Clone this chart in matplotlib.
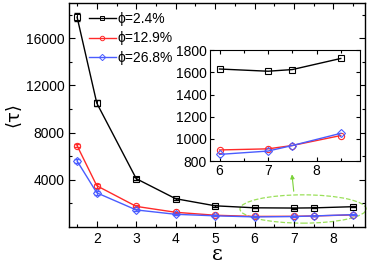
import matplotlib.pyplot as plt
from matplotlib.patches import Ellipse

plt.rcParams['font.family'] = ['Liberation Sans', 'DejaVu Sans']

eps = [1.5, 2, 3, 4, 5, 6, 7, 7.5, 8.5]
tau_24 = [17800, 10500, 4100, 2400, 1800, 1630, 1610, 1625, 1725]
tau_129 = [6900, 3500, 1750, 1250, 1000, 900, 910, 940, 1030]
tau_268 = [5600, 2900, 1450, 1080, 950, 860, 890, 940, 1050]
err_24 = [350, 250, 120, 80, 60, 40, 40, 40, 40]
err_129 = [150, 150, 80, 60, 50, 30, 30, 30, 30]
err_268 = [150, 150, 80, 60, 50, 30, 30, 30, 30]

series = [
    (tau_24, err_24, 'black', 's', 'ϕ=2.4%'),
    (tau_129, err_129, '#ff2a2a', 'o', 'ϕ=12.9%'),
    (tau_268, err_268, '#4a5cff', 'D', 'ϕ=26.8%'),
]

fig = plt.figure(figsize=(3.74, 2.64), dpi=100)
ax = fig.add_axes([0.185, 0.14, 0.791, 0.849])

for y, e, c, m, lab in series:
    ms = 4.5 if m != 'D' else 4
    ax.errorbar(eps, y, yerr=e, fmt='none', ecolor=c, capsize=2,
                elinewidth=0.7)
    ax.plot(eps, y, color=c, marker=m, ms=ms, mfc='none', mew=0.8, lw=1.0)

# legend handles with smaller markers, as in the original
handles = [plt.Line2D([], [], color=c, marker=m, ms=3.2, mfc='none', mew=0.7,
                      lw=1.0, label=lab) for _, _, c, m, lab in series]

ax.set_xlim(1.3, 8.8)
ax.set_ylim(0, 19000)
ax.set_xticks([2, 3, 4, 5, 6, 7, 8])
ax.set_xticks([1.5, 2.5, 3.5, 4.5, 5.5, 6.5, 7.5, 8.5], minor=True)
ax.set_yticks([4000, 8000, 12000, 16000])
ax.set_yticks([2000, 6000, 10000, 14000, 18000], minor=True)
ax.tick_params(which='both', direction='in', top=True, right=True, labelsize=10)
ax.tick_params(which='major', length=4, width=0.8)
ax.tick_params(which='minor', length=2.5, width=0.8)
for s in ax.spines.values():
    s.set_linewidth(1.0)

ax.set_xlabel('ε', family='DejaVu Serif', fontsize=15, labelpad=-1)
ax.set_ylabel('⟨τ⟩', family='DejaVu Sans', fontsize=13, labelpad=2)

ax.legend(handles=handles, loc='upper left', frameon=False, fontsize=10,
          handlelength=1.95, handletextpad=0.15, labelspacing=0.42,
          borderaxespad=0.0, borderpad=0.3, bbox_to_anchor=(0.052, 0.98))

# dashed green ellipse and arrow marking the zoomed region
ax.add_patch(Ellipse((7.23, 1530), 3.2, 2400, fill=False, ec='#9be05a',
                     ls='--', lw=0.9, clip_on=False))
ax.annotate('', xy=(6.94, 4700), xytext=(7.0, 2800),
            arrowprops=dict(arrowstyle='-|>', color='#7bd23a', lw=0.8,
                            mutation_scale=6))

# inset
axin = fig.add_axes([0.561, 0.39, 0.402, 0.42])
for y, e, c, m, lab in series:
    axin.plot(eps[5:], y[5:], color=c, marker=m, ms=4.5 if m != 'D' else 4,
              mfc='none', mew=0.8, lw=1.0)
axin.set_xlim(5.8, 8.9)
axin.set_ylim(800, 1800)
axin.set_xticks([6, 7, 8])
axin.set_xticks([6.5, 7.5, 8.5], minor=True)
axin.set_yticks([800, 1000, 1200, 1400, 1600, 1800])
axin.tick_params(which='both', direction='in', top=True, right=True,
                 labelsize=10, pad=2)
axin.tick_params(which='major', length=3, width=0.8)
axin.tick_params(which='minor', length=2, width=0.8)

fig.savefig('out.png', dpi=100)
